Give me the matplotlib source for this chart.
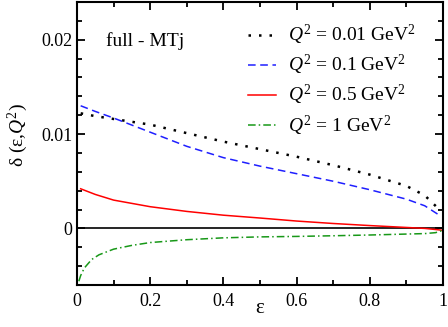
import matplotlib
matplotlib.use("Agg")
import matplotlib.pyplot as plt
from matplotlib.ticker import MultipleLocator, FixedLocator
import numpy as np

plt.rcParams['font.family'] = ['Liberation Serif', 'DejaVu Serif']
plt.rcParams['mathtext.fontset'] = 'custom'
plt.rcParams['mathtext.rm'] = 'Liberation Serif'
plt.rcParams['mathtext.it'] = 'Liberation Serif:italic'

eps_black = [0.01, 0.05, 0.1, 0.2, 0.3, 0.4, 0.5, 0.6, 0.7, 0.8, 0.9, 0.95, 0.99]
q001 = [0.0122, 0.0119, 0.0116, 0.0110, 0.0101, 0.0092, 0.0084, 0.0076, 0.0067, 0.0057, 0.0045, 0.0035, 0.0020]

eps_blue = [0.01, 0.05, 0.1, 0.2, 0.3, 0.4, 0.5, 0.6, 0.7, 0.8, 0.9, 0.95, 0.99]
q01 = [0.0130, 0.0124, 0.0117, 0.0102, 0.0087, 0.0075, 0.0066, 0.0058, 0.0050, 0.0041, 0.0031, 0.0024, 0.0014]

eps_red = [0.01, 0.05, 0.1, 0.2, 0.3, 0.4, 0.5, 0.6, 0.7, 0.8, 0.9, 0.95, 1.0]
q05 = [0.0042, 0.0036, 0.0030, 0.0023, 0.0018, 0.0014, 0.0011, 0.00078, 0.00052, 0.0003, 0.0001, 0.0, -0.0002]

eps_green = [0.005, 0.01, 0.02, 0.04, 0.06, 0.1, 0.15, 0.2, 0.3, 0.4, 0.5, 0.6, 0.7, 0.8, 0.9, 0.95, 0.98, 1.0]
q1 = [-0.0056, -0.0050, -0.0042, -0.0033, -0.0028, -0.0022, -0.0018, -0.0015, -0.0012, -0.0010, -0.0009, -0.00085, -0.00078, -0.0007, -0.0006, -0.00055, -0.00045, -0.0002]

labels = [r'$Q^2$ = 0.01 GeV$^2$', r'$Q^2$ = 0.1 GeV$^2$',
          r'$Q^2$ = 0.5 GeV$^2$', r'$Q^2$ = 1 GeV$^2$']

fig = plt.figure(figsize=(4.48, 3.27), dpi=100)
ax = fig.add_axes([77/448, 42/327, 366/448, 283/327])

ax.axhline(0, color='black', lw=1.2, zorder=1)
ax.plot(eps_black, q001, color='black', ls=(0, (1, 3.2)), lw=1.8, label=labels[0])
ax.plot(eps_blue, q01, color='#1f1fff', ls=(0, (5, 3)), lw=1.1, label=labels[1])
ax.plot(eps_red, q05, color='#ff0000', ls='-', lw=1.1, label=labels[2])
ax.plot(eps_green, q1, color='#189818', ls=(0, (5, 2, 1, 2)), lw=1.1, label=labels[3])

ax.set_xlim(0, 1)
ax.set_ylim(-0.006, 0.024)
ax.xaxis.set_major_locator(FixedLocator([0, 0.2, 0.4, 0.6, 0.8, 1.0]))
ax.set_xticklabels(['0', '0.2', '0.4', '0.6', '0.8', '1'])
ax.xaxis.set_minor_locator(MultipleLocator(0.1))
ax.yaxis.set_major_locator(FixedLocator([0, 0.01, 0.02]))
ax.set_yticklabels(['0', '0.01', '0.02'])
ax.yaxis.set_minor_locator(MultipleLocator(0.002))
ax.tick_params(which='both', direction='in', top=True, right=True, labelsize=13, width=1.3)
ax.tick_params(which='major', length=6)
ax.tick_params(which='minor', length=3.5)
ax.tick_params(axis='x', pad=6)
for s in ax.spines.values():
    s.set_linewidth(1.5)

ax.set_xlabel('ε', fontsize=15)
ax.xaxis.label.set_va('top')
ax.xaxis.set_label_coords(0.5, -(299 - 285) / 283)
ax.set_ylabel(r'δ (ε,$Q^2$)', fontsize=14)
ax.yaxis.set_label_coords(-(77 - 18) / 366, (285 - 135) / 283)
ax.yaxis.label.set_va('center')

ax.text(0.08, (285 - 41) / 283, 'full - MTj', transform=ax.transAxes,
        fontsize=14, va='center')
leg = ax.legend(loc='upper left', bbox_to_anchor=(0.468, 0.925), frameon=False,
                fontsize=14, handlelength=1.45, handletextpad=0.6,
                labelspacing=0.3, borderaxespad=0, borderpad=0)

fig.savefig('out.png', dpi=100)
